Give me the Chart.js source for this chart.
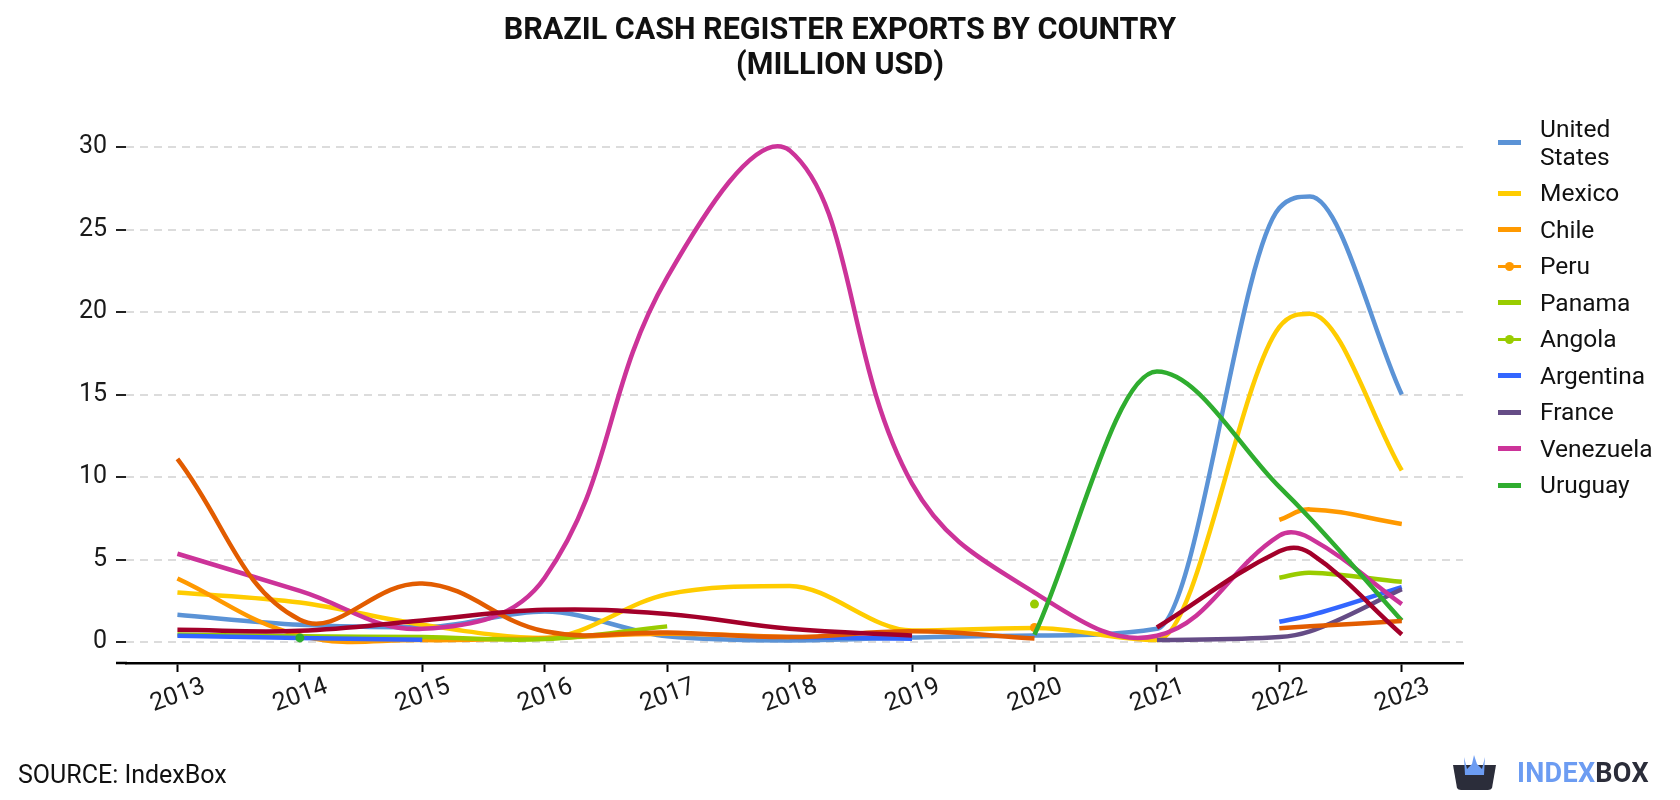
<!DOCTYPE html>
<html>
<head>
<meta charset="utf-8">
<script src="https://cdn.jsdelivr.net/npm/chart.js@4.4.1/dist/chart.umd.min.js"></script>
<style>
html,body{margin:0;padding:0;background:#fff;}
#wrap{position:relative;width:1680px;height:800px;font-family:Roboto,"Noto Sans",sans-serif;overflow:hidden;}
#c{position:absolute;left:0;top:0;}
#title{position:absolute;left:0;top:11px;width:1680px;text-align:center;font-weight:700;font-size:30.5px;line-height:35px;color:#111;}
.li{position:absolute;left:1498px;display:flex;align-items:center;font-size:24.5px;color:#111;line-height:28px;transform:translateY(-50%);}
.mk{position:relative;width:23px;height:5px;margin-right:19px;flex:none;}
.mk .dot{position:absolute;left:7px;top:-2.5px;width:9px;height:9px;border-radius:50%;}
#source{position:absolute;left:18px;top:774px;transform:translateY(-50%);font-size:25px;color:#111;}
#logo{position:absolute;left:1451px;top:755px;display:flex;align-items:center;}
#logo .t{font-weight:700;font-size:27px;letter-spacing:0.3px;margin-left:19px;}
</style>
</head>
<body>
<div id="wrap">
  <canvas id="c" width="1680" height="800"></canvas>
  <div id="title">BRAZIL CASH REGISTER EXPORTS BY COUNTRY<br>(MILLION USD)</div>
  <div id="legend"></div>
  <div id="source">SOURCE: IndexBox</div>
  <div id="logo">
    <svg width="47" height="36" viewBox="0 0 47 36">
      <path d="M2 10 L45 10 L41 33 Q40 35 37 35 L10 35 Q7 35 6 33 Z" fill="#2b2d3a"/>
      <path d="M13 2 L16 14 L21 9 L23 0 L26 9 L31 14 L34 2 L33 20 L14 20 Z" fill="#6c9cf2"/>
    </svg>
    <span class="t"><span style="color:#6c9cf2">INDEX</span><span style="color:#2b2d3a">BOX</span></span>
  </div>
</div>
<script>
// ---- data ----
const periods = [2013, 2014, 2015, 2016, 2017, 2018, 2019, 2020, 2021, 2022, 2022.25, 2023];
const yearTicks = [2013, 2014, 2015, 2016, 2017, 2018, 2019, 2020, 2021, 2022, 2023];
const valueTicks = [0, 5, 10, 15, 20, 25, 30];

const seriesNames = ["United States", "Mexico", "Chile", "Peru", "Panama", "Angola", "Argentina", "France", "Venezuela", "Uruguay", "Paraguay", "Colombia"];

const unitedStates = [1.65, 1.05, 0.9, 1.85, 0.35, 0.1, 0.28, 0.4, 0.8, 26.3, 27.0, 15.0];
const mexico       = [3.0, 2.4, 1.05, 0.25, 2.9, 3.4, 0.7, 0.85, 0.12, 19.1, 19.9, 10.4];
const chile        = [3.85, 0.4, 0.12, 0.25, 0.5, 0.3, null, null, null, 7.4, 8.04, 7.15];
const peru         = [null, null, null, null, null, null, null, 0.88, null, null, null, null];
const panama       = [0.45, 0.35, 0.3, 0.18, 0.95, null, null, null, null, 3.9, 4.2, 3.65];
const angola       = [null, null, null, null, null, null, null, 2.3, null, null, null, null];
const argentina    = [0.38, 0.24, 0.14, null, null, 0.3, 0.2, null, null, 1.23, 1.62, 3.33];
const france       = [null, null, null, null, null, null, null, null, 0.12, 0.3, 0.65, 3.2];
const venezuela    = [5.35, 3.1, 0.8, 3.9, 22.1, 29.8, 9.6, 3.0, 0.38, 6.45, 6.3, 2.3];
const uruguay      = [null, 0.25, null, null, null, null, null, 0.45, 16.4, 9.4, 7.5, 1.3];
const paraguay     = [11.1, 1.35, 3.55, 0.65, 0.58, 0.3, 0.65, 0.22, null, 0.83, 0.95, 1.27];
const colombia     = [0.74, 0.68, 1.3, 1.95, 1.7, 0.8, 0.4, null, 0.88, 5.5, 5.4, 0.46];

const seriesValues = [unitedStates, mexico, chile, peru, panama, angola, argentina, france, venezuela, uruguay, paraguay, colombia];
const seriesColors = ["#5b93d6", "#ffcc00", "#ff9900", "#ff9900", "#99cc00", "#99cc00", "#3366ff", "#654c86", "#cc3399", "#2fad2f", "#e25c00", "#a3002a"];
const monotoneSeries = ["United States", "Mexico", "Argentina", "France", "Uruguay"];
const legendCount = 10;
const legendDots = ["Peru", "Angola"];

// ---- chart ----
function isolatedRadius(ctx) {
  const d = ctx.dataset.data, i = ctx.dataIndex;
  if (!d[i] || d[i].y == null) return 0;
  const prev = i > 0 ? d[i - 1].y : null;
  const next = i < d.length - 1 ? d[i + 1].y : null;
  return (prev == null && next == null) ? 4.5 : 0;
}

const datasets = seriesNames.map((name, k) => ({
  label: name,
  data: periods.map((x, i) => ({ x: x, y: seriesValues[k][i] })),
  borderColor: seriesColors[k],
  backgroundColor: seriesColors[k],
  pointBackgroundColor: seriesColors[k],
  pointBorderWidth: 0,
  pointRadius: isolatedRadius,
  pointHoverRadius: 0,
  borderWidth: 4.5,
  tension: 0.4,
  cubicInterpolationMode: monotoneSeries.includes(name) ? 'monotone' : 'default',
  spanGaps: false,
  fill: false,
  order: -k
}));

const axisExtend = {
  id: 'axisExtend',
  afterDraw(chart) {
    const ctx = chart.ctx, a = chart.chartArea;
    ctx.save();
    ctx.strokeStyle = '#000';
    ctx.lineWidth = 2.5;
    ctx.beginPath();
    ctx.moveTo(116, a.bottom);
    ctx.lineTo(a.left + 1, a.bottom);
    ctx.stroke();
    ctx.restore();
  }
};

new Chart(document.getElementById('c'), {
  type: 'line',
  data: { datasets: datasets },
  plugins: [axisExtend],
  options: {
    responsive: false,
    animation: false,
    events: [],
    layout: { padding: { left: 0, right: 217, top: 125.6, bottom: 0 } },
    plugins: {
      legend: { display: false },
      tooltip: { enabled: false },
      title: { display: false }
    },
    scales: {
      x: {
        type: 'linear',
        min: 2012.58,
        max: 2023.5,
        afterBuildTicks: (s) => { s.ticks = yearTicks.map(v => ({ value: v })); },
        afterFit: (s) => { s.height = 137; },
        ticks: {
          autoSkip: false,
          minRotation: 20,
          maxRotation: 20,
          labelOffset: 27,
          padding: 0,
          color: '#1a1a1a',
          font: { family: 'Roboto', size: 25 },
          callback: (v) => String(v)
        },
        grid: { display: true, drawOnChartArea: false, drawTicks: true, tickLength: 9, tickColor: '#000', tickWidth: 2 },
        border: { display: true, color: '#000', width: 2.5 }
      },
      y: {
        type: 'linear',
        min: -1.27,
        max: 31.3,
        afterBuildTicks: (s) => { s.ticks = valueTicks.map(v => ({ value: v })); },
        afterFit: (s) => { s.width = 126; },
        ticks: {
          color: '#1a1a1a',
          padding: 9,
          font: { family: 'Roboto', size: 25 },
          callback: (v) => String(v)
        },
        grid: { color: '#dcdcdc', lineWidth: 2, drawTicks: true, tickLength: 10, tickColor: '#222', tickWidth: 2, tickBorderDash: [] },
        border: { display: false, dash: [8, 6] }
      }
    }
  }
});

// ---- HTML legend ----
const legendEl = document.getElementById('legend');
for (let k = 0; k < legendCount; k++) {
  const name = seriesNames[k];
  const item = document.createElement('div');
  item.className = 'li';
  const center = k === 0 ? 142.5 : 193 + (k - 1) * 36.5;
  item.style.top = center + 'px';
  const mk = document.createElement('div');
  mk.className = 'mk';
  mk.style.background = seriesColors[k];
  if (legendDots.includes(name)) {
    mk.style.height = '3px';
    const dot = document.createElement('div');
    dot.className = 'dot';
    dot.style.background = seriesColors[k];
    mk.appendChild(dot);
  }
  const tx = document.createElement('div');
  if (name === 'United States') { tx.innerHTML = 'United<br>States'; } else { tx.textContent = name; }
  item.appendChild(mk);
  item.appendChild(tx);
  legendEl.appendChild(item);
}
</script>
</body>
</html>
